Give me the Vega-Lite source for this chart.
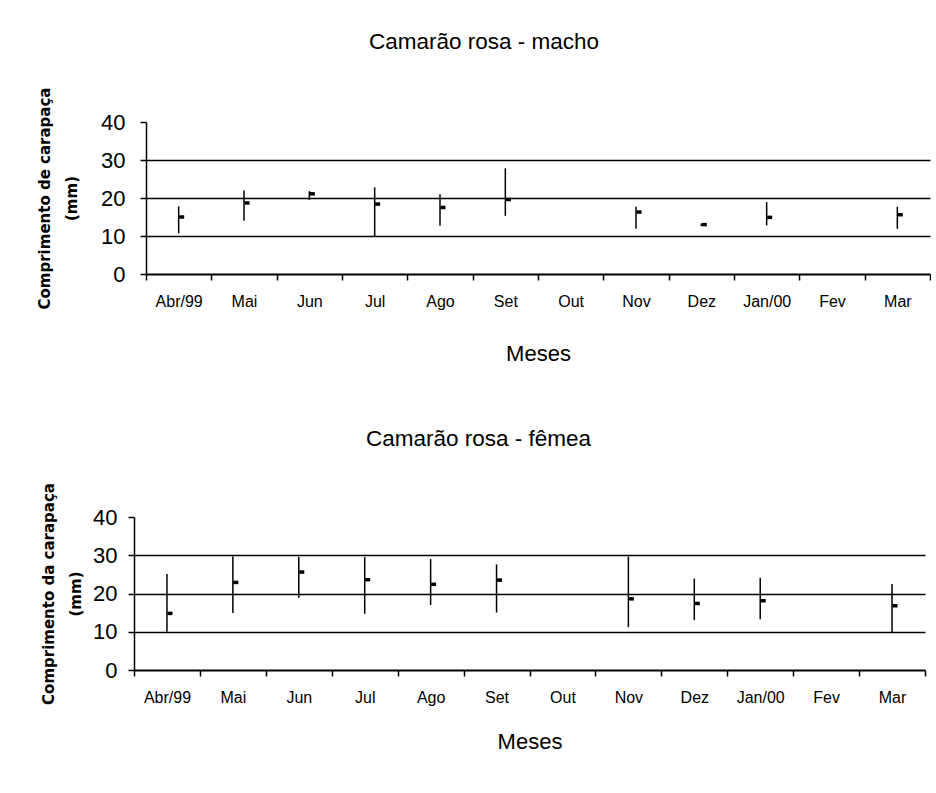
{
  "$schema": "https://vega.github.io/schema/vega-lite/v6.json",
  "background": "white",
  "padding": {"left": 37, "top": 30, "right": 0, "bottom": 0},
  "config": {
    "view": {"stroke": null},
    "font": "Liberation Sans",
    "axis": {"labelColor": "black", "titleColor": "black", "domainColor": "black", "tickColor": "black"},
    "title": {"font": "Liberation Sans", "fontWeight": "normal", "color": "black"}
  },
  "datasets": {
    "d": [
      {"sexo": "macho", "mes": "Abr/99", "min": 10.7, "max": 17.8, "media": 15.0},
      {"sexo": "macho", "mes": "Mai", "min": 14.0, "max": 22.0, "media": 18.7},
      {"sexo": "macho", "mes": "Jun", "min": 19.5, "max": 21.8, "media": 21.1},
      {"sexo": "macho", "mes": "Jul", "min": 10.0, "max": 22.8, "media": 18.4},
      {"sexo": "macho", "mes": "Ago", "min": 12.7, "max": 21.0, "media": 17.5},
      {"sexo": "macho", "mes": "Set", "min": 15.3, "max": 27.8, "media": 19.6},
      {"sexo": "macho", "mes": "Nov", "min": 11.9, "max": 17.7, "media": 16.3},
      {"sexo": "macho", "mes": "Dez", "min": 12.6, "max": 13.3, "media": 13.0},
      {"sexo": "macho", "mes": "Jan/00", "min": 12.8, "max": 18.9, "media": 14.9},
      {"sexo": "macho", "mes": "Mar", "min": 11.9, "max": 17.7, "media": 15.6},
      {"sexo": "femea", "mes": "Abr/99", "min": 10.0, "max": 25.1, "media": 14.8},
      {"sexo": "femea", "mes": "Mai", "min": 14.9, "max": 29.7, "media": 22.9},
      {"sexo": "femea", "mes": "Jun", "min": 18.9, "max": 29.6, "media": 25.6},
      {"sexo": "femea", "mes": "Jul", "min": 14.7, "max": 29.5, "media": 23.6},
      {"sexo": "femea", "mes": "Ago", "min": 17.0, "max": 29.0, "media": 22.4},
      {"sexo": "femea", "mes": "Set", "min": 15.0, "max": 27.6, "media": 23.5},
      {"sexo": "femea", "mes": "Nov", "min": 11.2, "max": 29.7, "media": 18.6},
      {"sexo": "femea", "mes": "Dez", "min": 13.1, "max": 23.9, "media": 17.4},
      {"sexo": "femea", "mes": "Jan/00", "min": 13.3, "max": 24.1, "media": 18.1},
      {"sexo": "femea", "mes": "Mar", "min": 9.8, "max": 22.5, "media": 16.8}
    ]
  },
  "columns": 1,
  "align": "none",
  "spacing": 64,
  "concat": [
    {
      "width": 796,
      "height": 152,
      "data": {"name": "d"},
      "transform": [{"filter": "datum.sexo == 'macho'"}],
      "title": {"text": "Camarão rosa - macho", "fontSize": 22.5, "offset": 34, "dx": -48},
      "layer": [
        {
          "mark": {"type": "rule", "color": "black", "strokeWidth": 1.5, "opacity": 1},
          "encoding": {
            "x": {
              "field": "mes", "type": "nominal",
              "scale": {"type": "band", "range": [12, 796], "domain": ["Abr/99", "Mai", "Jun", "Jul", "Ago", "Set", "Out", "Nov", "Dez", "Jan/00", "Fev", "Mar"], "paddingInner": 0, "paddingOuter": 0},
              "axis": {"title": "Meses", "titleFontSize": 22, "titleFontWeight": "normal", "titlePadding": 34, "labelAngle": 0, "labelFontSize": 16, "labelPadding": 13, "tickBand": "extent", "tickSize": 6, "tickWidth": 1.5, "domainWidth": 2}
            },
            "y": {
              "field": "min", "type": "quantitative",
              "scale": {"domain": [0, 40], "nice": false},
              "axis": {
                "values": [0, 10, 20, 30, 40],
                "tickCount": 5,
                "labelOverlap": false,
                "offset": -12,
                "grid": true, "gridColor": "black", "gridWidth": 1.5,
                "gridOpacity": {"condition": {"test": "datum.value == 0 || datum.value == 40", "value": 0}, "value": 1},
                "domainWidth": 1.5, "tickSize": 6, "tickWidth": 1.5,
                "labelFontSize": 22, "labelPadding": 15,
                "title": ["Comprimento de carapaça", "(mm)"],
                "titleFont": "DejaVu Sans", "titleFontSize": 15, "titleFontWeight": "bold", "titleLineHeight": 27, "titlePadding": 21.5
              }
            },
            "y2": {"field": "max"}
          }
        },
        {
          "mark": {"type": "tick", "orient": "horizontal", "color": "black", "size": 5, "thickness": 3.5, "xOffset": 3, "opacity": 1},
          "encoding": {
            "x": {"field": "mes", "type": "nominal"},
            "y": {"field": "media", "type": "quantitative"}
          }
        }
      ]
    },
    {
      "width": 791,
      "height": 153,
      "data": {"name": "d"},
      "transform": [{"filter": "datum.sexo == 'femea'"}],
      "title": {"text": "Camarão rosa - fêmea", "fontSize": 22.5, "offset": 32, "dx": -51},
      "layer": [
        {
          "mark": {"type": "rule", "color": "black", "strokeWidth": 1.5, "opacity": 1},
          "encoding": {
            "x": {
              "field": "mes", "type": "nominal",
              "scale": {"type": "band", "domain": ["Abr/99", "Mai", "Jun", "Jul", "Ago", "Set", "Out", "Nov", "Dez", "Jan/00", "Fev", "Mar"], "paddingInner": 0, "paddingOuter": 0},
              "axis": {"title": "Meses", "titleFontSize": 22, "titleFontWeight": "normal", "titlePadding": 26, "labelAngle": 0, "labelFontSize": 16, "labelPadding": 13, "tickBand": "extent", "tickSize": 6, "tickWidth": 1.5, "domainWidth": 2}
            },
            "y": {
              "field": "min", "type": "quantitative",
              "scale": {"domain": [0, 40], "nice": false},
              "axis": {
                "values": [0, 10, 20, 30, 40],
                "tickCount": 5,
                "labelOverlap": false,
                "grid": true, "gridColor": "black", "gridWidth": 1.5,
                "gridOpacity": {"condition": {"test": "datum.value == 0 || datum.value == 40", "value": 0}, "value": 1},
                "domainWidth": 1.5, "tickSize": 6, "tickWidth": 1.5,
                "labelFontSize": 22, "labelPadding": 11,
                "title": ["Comprimento da carapaça", "(mm)"],
                "titleFont": "DejaVu Sans", "titleFontSize": 15, "titleFontWeight": "bold", "titleLineHeight": 27, "titlePadding": 9.5
              }
            },
            "y2": {"field": "max"}
          }
        },
        {
          "mark": {"type": "tick", "orient": "horizontal", "color": "black", "size": 5, "thickness": 3.5, "xOffset": 3, "opacity": 1},
          "encoding": {
            "x": {"field": "mes", "type": "nominal"},
            "y": {"field": "media", "type": "quantitative"}
          }
        }
      ]
    }
  ]
}
